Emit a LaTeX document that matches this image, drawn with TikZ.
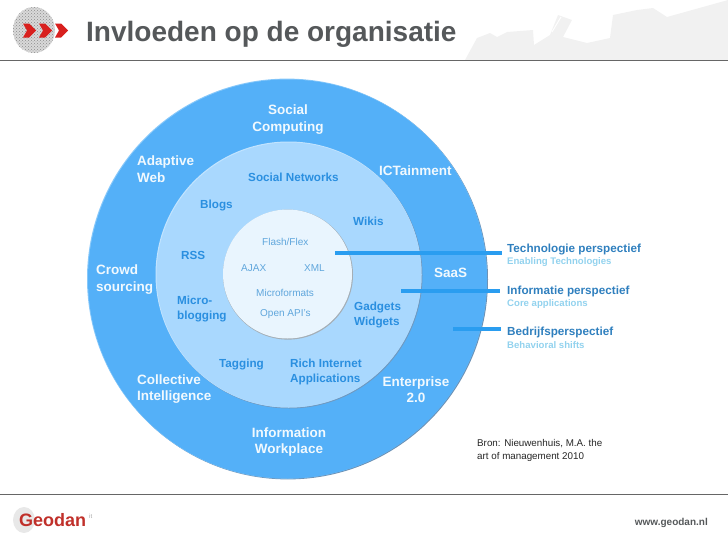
\documentclass[tikz,border=0pt]{standalone}
\usepackage{fontspec}
\setmainfont{Liberation Sans}
\usetikzlibrary{patterns}
\definecolor{outerblue}{HTML}{54B0F8}
\definecolor{midblue}{HTML}{A9D8FE}
\definecolor{innerblue}{HTML}{E9F5FE}
\definecolor{barblue}{HTML}{2A9DF0}
\definecolor{labdark}{HTML}{2F7FBE}
\definecolor{lablight}{HTML}{92D2EE}
\definecolor{midtext}{HTML}{2A8FE0}
\definecolor{intext}{HTML}{5FA6DC}
\definecolor{titlegrey}{HTML}{55585A}
\definecolor{bggrey}{HTML}{F1F1F1}
\definecolor{linegrey}{HTML}{666666}
\definecolor{geored}{HTML}{C0302A}
\definecolor{logored}{HTML}{D8201E}
\definecolor{rimouter}{HTML}{6C92B6}
\definecolor{rimmid}{HTML}{6F9AC2}
\definecolor{riminner}{HTML}{A4AEB6}
\tikzset{
  ring/.style={circle,inner sep=0pt,draw=none},
  outlab/.style={text=white!92!outerblue,font=\bfseries\fontsize{13.5}{16.5}\selectfont,align=left,anchor=west,inner sep=0pt},
  midlab/.style={text=midtext,font=\bfseries\fontsize{11.7}{15}\selectfont,align=left,anchor=west,inner sep=0pt},
  inlab/.style={text=intext,font=\fontsize{10}{12}\selectfont,anchor=west,inner sep=0pt},
  bar/.style={barblue,line width=3.2pt},
  headlab/.style={text=labdark,font=\bfseries\fontsize{11.7}{13}\selectfont,anchor=west,inner sep=0pt},
  sublab/.style={text=lablight,font=\bfseries\fontsize{9.6}{11}\selectfont,anchor=west,inner sep=0pt},
  rule/.style={linegrey,line width=0.9pt}
}
\begin{document}
\begin{tikzpicture}[x=1pt,y=-1pt]
\useasboundingbox (0,0) rectangle (728,546);
% header silhouette
\fill[bggrey] (465,60) -- (477,38) -- (490,33) -- (497,37) -- (507,32) -- (533,30) -- (534,45) -- (550,35) -- (558,15) -- (572,20) -- (563,37) -- (587,43) -- (610,38) -- (613,15) -- (637,10) -- (653,8) -- (667,17) -- (728,0) -- (728,60) -- cycle;
\draw[white,line width=1pt] (561,17) -- (552,32);
% logo
\fill[gray!30] (34,30) ellipse (21 and 23);
\fill[pattern=crosshatch dots,pattern color=gray!90] (34,30) ellipse (21 and 23);
\foreach \x in {23,39,55}{
  \fill[logored] (\x,23.5) -- (\x+6,23.5) -- (\x+13,30.5) -- (\x+6,37.5) -- (\x,37.5) -- (\x+4,30.5) -- cycle;
}
\node[anchor=west,inner sep=0pt,text=titlegrey,font=\bfseries\fontsize{28}{30}\selectfont] (title) at (86,34.5) {Invloeden op de organisatie};
\draw[rule] (0,60) -- (728,60);
\draw[rule] (0,494) -- (728,494);
% rings: dark rim lower right, then the disc
\fill[rimouter] (288,279.4) circle (200);
\fill[outerblue!70!white] (287,278.6) circle (200);
\node[ring,fill=outerblue,minimum size=399pt] (outer) at (287.5,279) {};
\fill[rimmid] (289.5,275.5) circle (133);
\fill[midblue!70!white] (288.5,274.5) circle (133);
\node[ring,fill=midblue,minimum size=265pt] (mid) at (289,275) {};
\fill[riminner] (288,274.6) circle (65);
\node[ring,fill=innerblue,minimum size=129pt] (inner) at (287.5,274) {};
% connectors
\coordinate (b1a) at (335,253); \coordinate (b1b) at (502,253);
\coordinate (b2a) at (401,291); \coordinate (b2b) at (500,291);
\coordinate (b3a) at (453,329); \coordinate (b3b) at (501,329);
\draw[bar] (b1a) -- (b1b);
\draw[bar] (b2a) -- (b2b);
\draw[bar] (b3a) -- (b3b);
% outer labels
\node[outlab,align=center,anchor=center] (o1) at (288,119.5) {Social\\Computing};
\node[outlab] (o2) at (137,169) {Adaptive\\Web};
\node[outlab] (o3) at (379,170.5) {ICTainment};
\node[outlab] (o4) at (96,279.5) {Crowd\\sourcing};
\node[outlab] (o5) at (434,272.5) {SaaS};
\node[outlab] (o6) at (137,389) {Collective\\Intelligence};
\node[outlab,align=center,anchor=center] (o7) at (416,389.5) {Enterprise\\2.0};
\node[outlab,align=center,anchor=center] (o8) at (289,442) {Information\\Workplace};
% middle labels
\node[midlab] (m1) at (248,177) {Social Networks};
\node[midlab] (m2) at (200,205) {Blogs};
\node[midlab] (m3) at (353,221) {Wikis};
\node[midlab] (m4) at (181,255) {RSS};
\node[midlab] (m5) at (177,309) {Micro-\\blogging};
\node[midlab] (m6) at (354,315) {Gadgets\\Widgets};
\node[midlab] (m7) at (219,364) {Tagging};
\node[midlab] (m8) at (290,372) {Rich Internet\\Applications};
% inner labels
\node[inlab] (i1) at (262,242) {Flash/Flex};
\node[inlab] (i2) at (241,268) {AJAX};
\node[inlab] (i3) at (304,268) {XML};
\node[inlab] (i4) at (256,293) {Microformats};
\node[inlab] (i5) at (260,314) {Open API's};
% perspectives
\node[headlab] (h1) at (507,249.5) {Technologie perspectief};
\node[sublab] (s1) at (507,262) {Enabling Technologies};
\node[headlab] (h2) at (507,291.5) {Informatie perspectief};
\node[sublab] (s2) at (507,304) {Core applications};
\node[headlab] (h3) at (507,332.5) {Bedrijfsperspectief};
\node[sublab] (s3) at (507,345) {Behavioral shifts};
\node[anchor=north west,inner sep=0pt,align=left,text=black!85,font=\fontsize{9.8}{12.5}\selectfont] (src) at (477,439.5) {Bron: Nieuwenhuis, M.A. the\\art of management 2010};
% footer
\fill[gray!18] (24,520) ellipse (11 and 13);
\node[anchor=west,inner sep=0pt,text=geored,font=\bfseries\fontsize{18}{20}\selectfont] (geo) at (19,520) {Geodan};
\node[anchor=west,inner sep=0pt,text=gray!70,font=\fontsize{6}{7}\selectfont] (it) at (89,516) {it};
\node[anchor=east,inner sep=0pt,text=titlegrey,font=\bfseries\fontsize{10}{12}\selectfont] (www) at (708,523) {www.geodan.nl};
\end{tikzpicture}
\end{document}
